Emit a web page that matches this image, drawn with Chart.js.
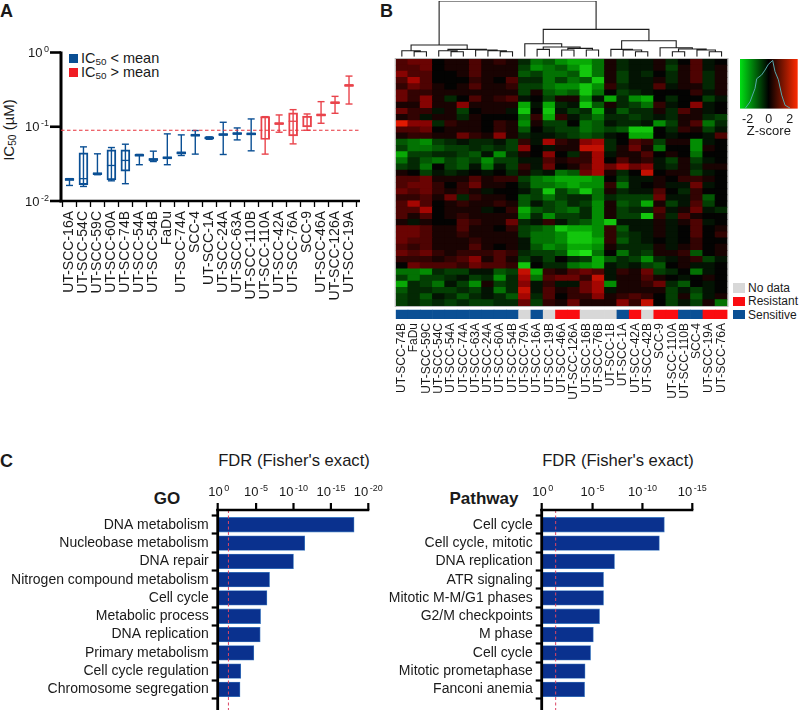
<!DOCTYPE html>
<html><head><meta charset="utf-8">
<style>
html,body{margin:0;padding:0;background:#fff;overflow:hidden}
#page{position:relative;width:799px;height:710px;font-family:"Liberation Sans",Arial,sans-serif;color:#1a1a1a}
#page canvas{position:absolute}
.t{position:absolute;white-space:nowrap;line-height:1}
.s{position:absolute;width:9px;height:9px}
sub{font-size:.68em;line-height:0;vertical-align:-0.25em}
</style>
<script src="https://cdn.jsdelivr.net/npm/chart.js@4/dist/chart.umd.min.js"></script>
</head><body>
<div id="page">
<div class="t" style="left:0;top:1px;font:bold 18px 'Liberation Sans'">A</div>
<div class="t" style="left:380px;top:1px;font:bold 18px 'Liberation Sans'">B</div>
<div class="t" style="left:0;top:451px;font:bold 18px 'Liberation Sans'">C</div>
<div class="s" style="left:69px;top:54px;background:#0a4f94"></div>
<div class="t" style="left:81px;top:51px;font-size:14.5px">IC<sub>50</sub> &lt; mean</div>
<div class="s" style="left:69px;top:68px;background:#f01c24"></div>
<div class="t" style="left:81px;top:65px;font-size:14.5px">IC<sub>50</sub> &gt; mean</div>
<div class="t" style="left:8px;top:130px;font-size:15px;transform:translate(-50%,-50%) rotate(-90deg)">IC<sub>50</sub> (µM)</div>
<div class="t" style="left:294px;top:461px;font-size:16.6px;transform:translate(-50%,-50%)">FDR (Fisher's exact)</div>
<div class="t" style="left:618px;top:461px;font-size:16.6px;transform:translate(-50%,-50%)">FDR (Fisher's exact)</div>
<div class="t" style="left:167px;top:499px;font:bold 17px 'Liberation Sans';transform:translate(-50%,-50%)">GO</div>
<div class="t" style="left:484px;top:499px;font:bold 17px 'Liberation Sans';transform:translate(-50%,-50%)">Pathway</div>
<div class="s" style="left:733px;top:283px;width:12px;height:10px;background:#d8d8d8"></div>
<div class="t" style="left:748px;top:282px;font-size:12px">No data</div>
<div class="s" style="left:733px;top:297px;width:12px;height:9px;background:#fa0c10"></div>
<div class="t" style="left:748px;top:295px;font-size:12px">Resistant</div>
<div class="s" style="left:733px;top:310px;width:12px;height:9px;background:#0a4f94"></div>
<div class="t" style="left:748px;top:309px;font-size:12px">Sensitive</div>
</div>
<script>
/* Panel A: IC50 box plot */
const lineNames=["UT-SCC-16A","UT-SCC-54C","UT-SCC-59C","UT-SCC-60A","UT-SCC-74B","UT-SCC-54A","UT-SCC-54B","FaDu","UT-SCC-74A","SCC-4","UT-SCC-1A","UT-SCC-24A","UT-SCC-63A","UT-SCC-110B","UT-SCC-110A","UT-SCC-42A","UT-SCC-76A","SCC-9","UT-SCC-46A","UT-SCC-126A","UT-SCC-19A"];
const whiskerLow=[0.0162,0.0157,0.0226,0.0187,0.0171,0.0308,0.0340,0.0308,0.0410,0.0428,0.0679,0.0423,0.0665,0.0474,0.0428,0.0844,0.0588,0.0897,0.1114,0.1518,0.2024];
const boxQ1=[0.0191,0.0166,0.0228,0.0193,0.0253,0.0406,0.0352,0.0374,0.0432,0.0753,0.0687,0.0769,0.0793,0.0785,0.0673,0.1081,0.0753,0.0995,0.1413,0.2067,0.3532];
const boxMedian=[0.0195,0.0200,0.0233,0.0301,0.0352,0.0414,0.0362,0.0382,0.0445,0.0769,0.0708,0.0785,0.0809,0.0802,0.1342,0.1103,0.1185,0.1355,0.1442,0.2110,0.3606];
const boxQ3=[0.0200,0.0445,0.0238,0.0489,0.0489,0.0423,0.0374,0.0390,0.0455,0.0785,0.0723,0.0802,0.0826,0.0818,0.1368,0.1125,0.1534,0.1397,0.1471,0.2153,0.3681];
const whiskerHigh=[0.0200,0.0536,0.0432,0.0525,0.0582,0.0423,0.0469,0.0802,0.0777,0.0889,0.0731,0.1149,0.0964,0.1274,0.1368,0.1442,0.1700,0.1487,0.2178,0.2566,0.4813];
const aboveMean=[0,0,0,0,0,0,0,0,0,0,0,0,0,0,1,1,1,1,1,1,1];
const meanIC50=0.0897;
const icTicks=[0,-1,-2];

/* Panel B: heat map, row by row from the top, levels from -9 (green) to 9 (red) */
const heatSamples=["UT-SCC-74B","FaDu","UT-SCC-59C","UT-SCC-54C","UT-SCC-54A","UT-SCC-74A","UT-SCC-63A","UT-SCC-24A","UT-SCC-60A","UT-SCC-54B","UT-SCC-79A","UT-SCC-16A","UT-SCC-19B","UT-SCC-46A","UT-SCC-126A","UT-SCC-16B","UT-SCC-76B","UT-SCC-1B","UT-SCC-1A","UT-SCC-42A","UT-SCC-42B","SCC-9","UT-SCC-110A","UT-SCC-110B","SCC-4","UT-SCC-19A","UT-SCC-76A"];
const sampleStatus=["s","s","s","s","s","s","s","s","s","s","n","s","n","r","r","n","n","n","s","r","n","r","r","s","s","r","r"];
const heatRows=[
[3,4,4,0,1,1,3,1,2,1,-2,-5,-4,-6,-7,-7,-5,1,-2,-1,-1,1,-2,0,3,-1,0],
[3,3,4,0,1,1,3,1,1,1,-3,-6,-5,-4,-6,-8,-5,1,-2,-1,-1,1,-3,1,3,-1,1],
[5,3,3,0,0,1,3,1,1,1,-4,-3,-5,-5,-4,-8,-5,1,-3,-1,-2,0,-2,1,3,-2,1],
[3,6,3,0,0,0,2,1,0,3,-2,-2,-5,-3,-5,-4,-8,1,-3,-1,-1,1,-2,1,3,-2,1],
[2,4,3,1,0,1,3,1,1,2,-3,-3,-5,-6,-6,-8,-6,2,-2,-1,-1,3,-1,1,1,-2,1],
[4,2,2,1,1,1,1,1,1,1,-3,1,-4,-5,-4,-8,-5,0,-3,-2,-1,0,0,0,2,-1,1],
[4,2,5,1,-2,0,3,1,2,3,-1,0,-3,1,1,-6,-1,-7,-2,-6,-7,0,-2,0,0,-3,-1],
[1,1,5,1,1,5,1,1,1,1,-7,-1,-7,-2,-1,-8,-4,1,-2,-3,-5,2,-1,0,5,-1,0],
[4,2,2,-1,1,-3,0,1,1,-1,-8,0,-8,-1,-3,-2,-7,-1,-4,-2,-2,1,-2,3,1,-1,0],
[1,2,-1,1,1,-2,1,0,0,0,-5,2,-7,2,-1,-3,-5,-2,-2,-3,-2,-1,-2,1,1,-2,-3],
[8,5,5,-2,2,1,1,0,2,1,-6,1,-3,-3,0,-5,-4,-1,-2,-2,-1,-6,-3,1,3,-5,-2],
[3,3,4,0,1,1,1,0,2,1,-4,0,-2,-3,-3,-5,-4,-3,-4,-8,-8,0,-2,2,1,-3,-1],
[1,2,2,1,1,4,2,1,5,1,-2,-1,-1,-2,-3,-4,-3,-1,0,-7,-7,0,-1,0,0,-1,3],
[-4,-5,-6,-3,-2,-1,-2,-2,-1,-3,2,-1,6,2,1,5,6,-2,0,3,2,-3,1,1,-6,-1,0],
[-3,-5,-5,-4,-3,-3,-2,-3,-2,-3,5,0,-1,1,1,7,7,-2,1,4,1,-5,0,0,-6,1,0],
[-7,-3,-3,-2,-2,-3,-4,-1,-6,-2,1,0,5,0,-2,2,6,-1,1,1,3,0,1,0,-5,0,0],
[-5,-2,-4,-5,-3,-4,-3,-6,-3,-3,-1,-1,3,1,2,2,6,0,3,1,2,-1,-3,1,-3,-1,0],
[-3,-2,-5,0,-3,-4,-1,-5,-1,-3,2,-1,4,0,1,3,6,4,6,4,5,-1,-2,1,-2,1,1],
[1,0,-3,-1,-2,-1,0,-1,0,-2,1,-2,-1,-5,-4,4,6,1,-2,0,7,0,1,1,-3,-1,0],
[3,3,4,1,1,1,3,1,2,2,-3,-5,-6,-7,-7,-7,-6,0,-3,-1,-1,1,0,2,2,1,0],
[3,4,4,2,0,2,4,1,1,0,-2,-5,-5,-6,-7,-6,-6,2,-5,-1,0,1,-1,-1,4,-1,0],
[4,3,4,2,1,2,1,-1,0,0,-1,-3,-8,-3,-5,-8,-5,1,-2,-1,-1,3,0,-2,2,0,0],
[2,2,3,1,4,-2,2,1,1,0,-4,-3,-5,-3,-2,-2,-5,-2,-3,-3,-3,4,-1,-1,2,-4,0],
[3,6,3,0,1,2,1,1,2,1,-4,-1,-3,-4,-2,-3,-6,1,-4,-3,-7,1,-3,-1,3,-3,0],
[3,3,6,0,1,1,1,-1,0,2,-7,-4,-3,-4,-5,-2,-6,1,-3,-2,-2,3,-1,1,4,-1,-2],
[3,1,3,0,1,2,1,1,1,1,-6,-2,-6,-3,-3,-2,-6,1,-3,-3,-8,2,-2,3,1,0,0],
[1,-1,1,0,0,3,2,1,1,4,-2,-1,2,-1,-3,-4,-6,-8,-1,-1,-1,1,-1,1,3,-1,0],
[4,4,3,1,1,3,1,1,0,2,-3,-4,-5,-8,-7,-7,-6,2,-4,-1,-1,1,-1,0,3,0,1],
[4,4,3,1,1,2,1,1,1,1,-3,-5,-5,-6,-8,-8,-6,2,-3,-2,-1,1,-1,0,3,0,2],
[4,3,3,1,1,1,2,1,1,1,-1,-5,-5,-6,-8,-8,-7,2,-4,-2,-1,0,-1,0,2,0,0],
[3,2,3,1,1,1,3,1,0,1,-1,-4,-6,-5,-7,-7,-6,1,-2,-2,-2,1,-1,1,2,0,1],
[4,3,4,2,1,2,2,2,3,2,-2,-3,-3,-4,-8,-9,-5,0,-5,-2,-3,1,1,2,-4,0,1],
[2,2,2,1,2,3,5,1,3,1,-3,-1,-3,0,-2,-3,-7,-4,-2,-3,-6,-2,-1,1,2,-3,-1],
[0,4,3,3,3,2,4,3,3,2,-8,0,-2,-2,-5,-6,-7,-1,-2,-1,-3,-4,0,1,-1,-1,0],
[-5,-5,-6,-2,-3,-3,-1,-1,-4,-3,7,-7,2,1,3,4,3,-1,2,1,4,-3,-2,0,-5,-1,0],
[-3,-5,-3,-3,-2,-1,-3,-2,-6,-2,6,-5,3,4,4,2,7,-1,1,1,3,1,0,-1,0,1,0],
[-7,-2,-3,-5,-1,-3,-6,1,-3,-2,5,-1,2,-1,-1,4,6,-6,1,1,2,4,-2,-4,0,-1,0],
[-4,-2,-2,-3,-3,-2,-3,-1,-5,-2,7,-1,3,1,2,4,6,-1,1,1,1,1,-3,-1,-3,-1,0],
[-3,-2,-4,-1,-2,-4,-2,-1,-2,-4,6,-2,3,0,2,2,5,1,2,3,2,0,-3,1,-4,-1,1],
[-3,-2,-3,-2,-3,-2,-3,-3,-2,-2,4,-3,2,1,4,1,1,1,5,2,7,0,-3,-1,-3,1,-5]
];
/* Dendrogram merges: child (number = leaf column, "mN" = merge N), child, height */
const dendroMerges=[
[1,2,15],[0,"m0",18],[4,5,15],[3,"m2",18],[8,9,15],[7,"m4",18],[6,"m5",20],["m3","m6",22],["m1","m7",35],
[11,12,22],[13,14,20],[15,16,20],["m10","m11",25],["m9","m12",29],[10,"m13",39],
[19,20,15],[18,"m15",20],[17,"m16",22],[22,23,15],[25,26,15],[24,"m19",20],["m18","m20",23],[21,"m21",27],["m17","m22",48],
["m14","m23",82],["m8","m24",167]
];
/* Colour key histogram */
const zScoreX=[-2.25,-1.78,-1.3,-1.14,-0.67,-0.35,-0.03,0.38,0.6,0.92,1.24,1.56,2.03];
const zDensity=[0,0.14,0.42,0.62,0.7,0.8,0.92,1,0.77,0.6,0.28,0.07,0.01];
const zTicks=[-2,0,2];

/* Panel C */
const goTerms=["DNA metabolism","Nucleobase metabolism","DNA repair","Nitrogen compound metabolism","Cell cycle","Metabolic process","DNA replication","Primary metabolism","Cell cycle regulation","Chromosome segregation"];
const goExponent=[18.1,11.5,10,6.8,6.45,5.6,5.55,4.7,2.95,2.85];
const goTicks=[0,5,10,15,20];
const pathwayTerms=["Cell cycle","Cell cycle, mitotic","DNA replication","ATR signaling","Mitotic M-M/G1 phases","G2/M checkpoints","M phase","Cell cycle","Mitotic prometaphase","Fanconi anemia"];
const pathwayExponent=[12.2,11.7,7.2,6.1,6.1,5.7,5.08,4.8,4.25,4.2];
const pathwayTicks=[0,5,10,15];
const fdrCutoff=1.3;

const FONT='"Liberation Sans",Arial,sans-serif';
const INK='#1a1a1a';
Chart.defaults.font.family=FONT;
Chart.defaults.color=INK;
Chart.defaults.animation=false;
const base={responsive:false,maintainAspectRatio:false,devicePixelRatio:1,events:[],
  plugins:{legend:{display:false},tooltip:{enabled:false}}};
function chart(left,top,w,h,cfg){
  const c=document.createElement('canvas');c.width=w;c.height=h;
  c.style.left=left+'px';c.style.top=top+'px';c.style.width=w+'px';c.style.height=h+'px';
  document.getElementById('page').appendChild(c);
  return new Chart(c,cfg);
}
function powerLabel(ctx,exp,x,y,size,small,align){
  const e=String(exp);
  ctx.font=size+'px '+FONT;const w1=ctx.measureText('10').width;
  ctx.font=small+'px '+FONT;const w2=ctx.measureText(e).width;
  const total=w1+1.5+w2;const x0=align==='right'?x-total:x-total/2;
  ctx.fillStyle=INK;ctx.textAlign='left';ctx.textBaseline='middle';
  ctx.font=size+'px '+FONT;ctx.fillText('10',x0,y);
  ctx.font=small+'px '+FONT;ctx.fillText(e,x0+w1+1.5,y-size*0.3);
}
function line(ctx,x1,y1,x2,y2,color,width,dash){
  ctx.save();ctx.strokeStyle=color;ctx.lineWidth=width;ctx.setLineDash(dash||[]);
  ctx.beginPath();ctx.moveTo(x1,y1);ctx.lineTo(x2,y2);ctx.stroke();ctx.restore();
}

/* ---------- A ---------- */
const BLUE='#0a4f94',RED='#e9434b';
const boxColours=aboveMean.map(a=>a?RED:BLUE);
const boxPlugin={id:'boxParts',
  beforeDatasetsDraw(ch){
    const ctx=ch.ctx,xs=ch.scales.x,ys=ch.scales.y;
    lineNames.forEach((n,i)=>{
      const x=xs.getPixelForValue(i),c=boxColours[i];
      line(ctx,x,ys.getPixelForValue(whiskerLow[i]),x,ys.getPixelForValue(whiskerHigh[i]),c,1.4);
      [whiskerLow[i],whiskerHigh[i]].forEach(v=>{const p=ys.getPixelForValue(v);line(ctx,x-3.5,p,x+3.5,p,c,1.4);});
    });
  },
  afterDatasetsDraw(ch){
    const ctx=ch.ctx,xs=ch.scales.x,ys=ch.scales.y;
    lineNames.forEach((n,i)=>{
      const x=xs.getPixelForValue(i),p=ys.getPixelForValue(boxMedian[i]);
      const thin=ys.getPixelForValue(boxQ1[i])-ys.getPixelForValue(boxQ3[i])<4;
      line(ctx,x-4.5,p,x+4.5,p,boxColours[i],thin?2.6:1.3);
    });
    const axisX=ch.chartArea.left-1.5,b=ch.chartArea.bottom,r=360;
    line(ctx,axisX,ch.chartArea.top-1,axisX,b+1.5,'#000',3);
    line(ctx,axisX-1.5,b,r,b,'#000',2.6);
    icTicks.forEach(t=>{
      const p=ys.getPixelForValue(Math.pow(10,t));
      line(ctx,50,p,axisX,p,'#000',2.6);
      powerLabel(ctx,t,49,p+1,13,9,'right');
    });
    const m=ys.getPixelForValue(meanIC50);
    line(ctx,axisX,m,r,m,'#e8333c',1.1,[3.5,2.5]);
  }};
chart(0,0,380,300,{type:'bar',
  data:{labels:lineNames,datasets:[{data:lineNames.map((n,i)=>[boxQ1[i],boxQ3[i]]),
    backgroundColor:'rgba(255,255,255,0)',borderColor:boxColours,borderWidth:1.3,borderSkipped:false,barThickness:9}]},
  options:{...base,layout:{padding:{left:62.5,right:24,top:52.5,bottom:0}},
    scales:{
      y:{type:'logarithmic',display:false,min:0.01,max:1},
      x:{grid:{drawOnChartArea:false,drawTicks:true,tickLength:6,tickWidth:1.3,tickColor:'#000'},border:{display:false},
         ticks:{autoSkip:false,minRotation:90,maxRotation:90,padding:4,color:INK,font:{size:14}},
         afterFit(s){s.height=99;}}
    }},
  plugins:[boxPlugin]});

/* ---------- B ---------- */
const RULE_GAP=0.65,STRIP=1.45;
const statusColour={s:'#0a4f94',r:'#fa0c10',n:'#d8d8d8'};
function heatColour(l){
  const a=Math.abs(l)/9;
  if(l>=0){return 'rgb('+Math.round(255*Math.pow(a,1.12)+3)+','+Math.round(a>0.6?(a-0.6)*90:3)+',2)';}
  return 'rgb('+Math.round(a>0.7?(a-0.7)*100:3)+','+Math.round(225*Math.pow(a,1.2)+3)+','+Math.round(a>0.7?(a-0.7)*70:3)+')';
}
const oneRow=heatSamples.map(()=>1);
const heatSets=[
  {data:heatSamples.map(()=>STRIP),backgroundColor:sampleStatus.map(s=>statusColour[s]),inflateAmount:0.3},
  {data:heatSamples.map(()=>RULE_GAP),backgroundColor:'rgba(0,0,0,0)',inflateAmount:0}
].concat(heatRows.slice().reverse().map(r=>({data:oneRow,backgroundColor:r.map(heatColour),inflateAmount:0.5})));
const frame={id:'heatFrame',afterDatasetsDraw(ch){
  const a=ch.chartArea,y=ch.scales.y.getPixelForValue(RULE_GAP+STRIP);
  ch.ctx.save();ch.ctx.strokeStyle='#b9b9b9';ch.ctx.lineWidth=1;ch.ctx.strokeRect(a.left-.5,a.top-.5,a.width+1,y-a.top+1);ch.ctx.restore();
}};
chart(380,50,360,389,{type:'bar',data:{labels:heatSamples,datasets:heatSets},
  options:{...base,layout:{padding:{left:15.7,right:12.3,top:9,bottom:0}},
    datasets:{bar:{categoryPercentage:1,barPercentage:1,borderWidth:0}},
    scales:{
      x:{stacked:true,grid:{display:false,drawTicks:false,tickLength:0},border:{display:false},
         ticks:{autoSkip:false,minRotation:90,maxRotation:90,padding:4,color:INK,font:{size:12}},
         afterFit(s){s.height=120;}},
      y:{stacked:true,display:false,min:0,max:heatRows.length+RULE_GAP+STRIP}
    }},
  plugins:[frame]});

/* dendrogram */
function dendroPoints(){
  const nodes=[],pts=[];
  const get=c=>typeof c==='number'?{x:c,h:0}:nodes[+c.slice(1)];
  dendroMerges.forEach(([a,b,h])=>{
    const A=get(a),B=get(b);
    pts.push({x:A.x,y:A.h},{x:A.x,y:h},{x:B.x,y:h},{x:B.x,y:B.h},{x:null,y:null});
    nodes.push({x:(A.x+B.x)/2,h});
  });
  return pts;
}
chart(390,0,344,58,{type:'scatter',
  data:{datasets:[{data:dendroPoints(),showLine:true,spanGaps:false,pointRadius:0,borderColor:'#1c1c1c',borderWidth:1.1,tension:0}]},
  options:{...base,layout:{padding:{left:5.7,right:6.3,top:1,bottom:1.3}},
    scales:{x:{type:'linear',display:false,min:-0.5,max:heatSamples.length-0.5},
            y:{type:'linear',display:false,min:0,max:167}}}});

/* colour key */
const keyGradient={id:'keyGradient',beforeDatasetsDraw(ch){
  const a=ch.chartArea,ctx=ch.ctx,xs=ch.scales.x;
  const g=ctx.createLinearGradient(a.left,0,a.right,0);
  g.addColorStop(0,'#00e014');g.addColorStop((xs.getPixelForValue(0)-a.left)/a.width,'#000');g.addColorStop(1,'#ff2a00');
  ctx.save();ctx.fillStyle=g;ctx.fillRect(a.left,a.top,a.width,a.height);ctx.restore();
}};
chart(730,50,69,89,{type:'scatter',
  data:{datasets:[{data:zScoreX.map((x,i)=>({x,y:zDensity[i]})),showLine:true,pointRadius:0,borderColor:'#56a9ad',borderWidth:1,tension:0}]},
  options:{...base,layout:{padding:{left:10,right:1.3,top:9,bottom:0}},
    scales:{
      x:{type:'linear',min:-2.73,max:2.76,grid:{display:false,drawTicks:false,tickLength:0},border:{display:false},
         afterBuildTicks(s){s.ticks=zTicks.map(v=>({value:v}));},
         ticks:{maxRotation:0,padding:3,color:INK,font:{size:12.5}},
         title:{display:true,text:'Z-score',color:INK,font:{size:13},padding:{top:1,bottom:0}},
         afterFit(s){s.height=30.4;}},
      y:{type:'linear',display:false,min:0,max:1.03}
    }},
  plugins:[keyGradient]});

/* ---------- C ---------- */
function enrichment(left,w,paddingRight,axisWidth,labels,values,ticks,max){
  const top=470,height=240,axisY=510;
  const axes={id:'axes',afterDatasetsDraw(ch){
    const ctx=ch.ctx,xs=ch.scales.x,a=ch.chartArea,x0=a.left-1;
    const c=xs.getPixelForValue(fdrCutoff);
    line(ctx,c,axisY-top,c,height,'#dc4564',1,[3,2.5]);
    line(ctx,x0,axisY-top-1,x0,height,'#000',2.8);
    line(ctx,x0-1.4,axisY-top,a.right+1,axisY-top,'#000',2.6);
    ticks.forEach(t=>{const p=xs.getPixelForValue(t);
      const q=p===a.left?x0:p;
      line(ctx,q,axisY-top-7,q,axisY-top,'#000',2.2);
      powerLabel(ctx,t===0?0:-t,p,492-top,13,9,'center');
    });
  }};
  return chart(left,top,w,height,{type:'bar',
    data:{labels,datasets:[{data:values,backgroundColor:'#0a318e',borderColor:'#3d78bf',borderWidth:0.8,barThickness:14.6}]},
    options:{...base,indexAxis:'y',layout:{padding:{left:0,right:paddingRight,top:45.6,bottom:7.1}},
      scales:{
        x:{type:'linear',display:false,min:0,max},
        y:{grid:{drawOnChartArea:false,drawTicks:true,tickLength:7,tickWidth:2.2,tickColor:'#000'},border:{display:false},
           ticks:{autoSkip:false,padding:3,color:INK,font:{size:14}},
           afterFit(s){s.width=axisWidth;}}
      }},
    plugins:[axes]});
}
enrichment(0,400,31.7,218.7,goTerms,goExponent,goTicks,20);
enrichment(380,419,106.7,162.7,pathwayTerms,pathwayExponent,pathwayTicks,15);
</script>
</body></html>
